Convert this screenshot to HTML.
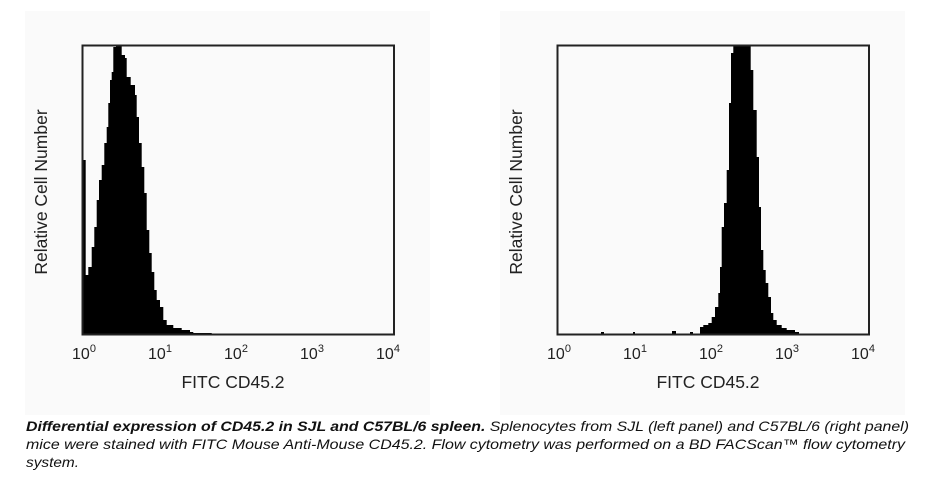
<!DOCTYPE html>
<html><head><meta charset="utf-8"><style>
html,body{margin:0;padding:0;background:#fff;}
svg{display:block;font-family:"Liberation Sans",Arial,sans-serif;}
</style></head><body>
<svg width="944" height="481" viewBox="0 0 944 481" xmlns="http://www.w3.org/2000/svg">
<rect x="25" y="11" width="405" height="404" fill="#fafafa"/>
<rect x="500" y="11" width="405" height="404" fill="#fafafa"/>

<!-- left plot -->
<polygon fill="#000" points="82.7,334 82.7,160 85.7,160 85.7,275 88.3,275 88.3,267 91.7,267 91.7,247 94.3,247 94.3,227 96.7,227 96.7,200 99,200 99,180 101.7,180 101.7,165 104.3,165 104.3,143 106.7,143 106.7,127 108.3,127 108.3,103 110,103 110,80 111.7,80 111.7,72 113.3,72 113.3,47 116,47 116,45 121.7,45 121.7,55 125,55 125,58 126.7,58 126.7,77 130.7,77 130.7,85 133.3,85 133.3,85 135,85 135,95 136.7,95 136.7,117 139,117 139,143 141.7,143 141.7,167 144.3,167 144.3,193 146.7,193 146.7,230 149.3,230 149.3,253 151.7,253 151.7,272 154.3,272 154.3,290 156.7,290 156.7,300 160,300 160,307 163.3,307 163.3,320 166.7,320 166.7,325 173.3,325 173.3,328 181.7,328 181.7,330 190,330 190,332 193.3,332 193.3,333 211.7,333 211.7,334"/>
<rect x="82.5" y="45.5" width="311.5" height="289" fill="none" stroke="#222" stroke-width="2"/>

<!-- right plot -->
<polygon fill="#000" points="700,334 700,327 703.3,327 703.3,325 708.3,325 708.3,323 711.7,323 711.7,317 715,317 715,307 718.3,307 718.3,293 720,293 720,267 721.7,267 721.7,227 724,227 724,203 726.7,203 726.7,170 729,170 729,103 731,103 731,53 733.3,53 733.3,45 750.7,45 750.7,70 753.3,70 753.3,110 756.7,110 756.7,157 759,157 759,207 761,207 761,250 763.3,250 763.3,270 765.7,270 765.7,283 768.3,283 768.3,297 771,297 771,313 773.3,313 773.3,320 776.7,320 776.7,325 781.7,325 781.7,328 786.7,328 786.7,330 795,330 795,332 799,332 799,334"/>
<rect x="601" y="332" width="3" height="2" fill="#000"/>
<rect x="633" y="332" width="2" height="2" fill="#000"/>
<rect x="672" y="331" width="4" height="3" fill="#000"/>
<rect x="690" y="332" width="3" height="2" fill="#000"/>
<rect x="557.5" y="45.5" width="311.5" height="289" fill="none" stroke="#222" stroke-width="2"/>

<g font-size="16" fill="#222" text-anchor="middle">
<text x="84" y="359">10<tspan font-size="11" dy="-7">0</tspan></text>
<text x="160" y="359">10<tspan font-size="11" dy="-7">1</tspan></text>
<text x="236" y="359">10<tspan font-size="11" dy="-7">2</tspan></text>
<text x="312" y="359">10<tspan font-size="11" dy="-7">3</tspan></text>
<text x="388" y="359">10<tspan font-size="11" dy="-7">4</tspan></text>
<text x="559" y="359">10<tspan font-size="11" dy="-7">0</tspan></text>
<text x="635" y="359">10<tspan font-size="11" dy="-7">1</tspan></text>
<text x="711" y="359">10<tspan font-size="11" dy="-7">2</tspan></text>
<text x="787" y="359">10<tspan font-size="11" dy="-7">3</tspan></text>
<text x="863" y="359">10<tspan font-size="11" dy="-7">4</tspan></text>
<text x="233" y="388" font-size="17.5">FITC CD45.2</text>
<text x="708" y="388" font-size="17.5">FITC CD45.2</text>
<text transform="translate(47,192) rotate(-90)" font-size="17.5">Relative Cell Number</text>
<text transform="translate(522,192) rotate(-90)" font-size="17.5">Relative Cell Number</text>
</g>

<g font-size="14" font-style="italic" fill="#111">
<text x="26" y="431" textLength="883" lengthAdjust="spacingAndGlyphs"><tspan font-weight="bold">Differential expression of CD45.2 in SJL and C57BL/6 spleen.</tspan> Splenocytes from SJL (left panel) and C57BL/6 (right panel)</text>
<text x="26" y="449" textLength="879" lengthAdjust="spacingAndGlyphs">mice were stained with FITC Mouse Anti-Mouse CD45.2.  Flow cytometry was performed on a BD FACScan™ flow cytometry</text>
<text x="26" y="467" textLength="53" lengthAdjust="spacingAndGlyphs">system.</text>
</g>
</svg>
</body></html>
